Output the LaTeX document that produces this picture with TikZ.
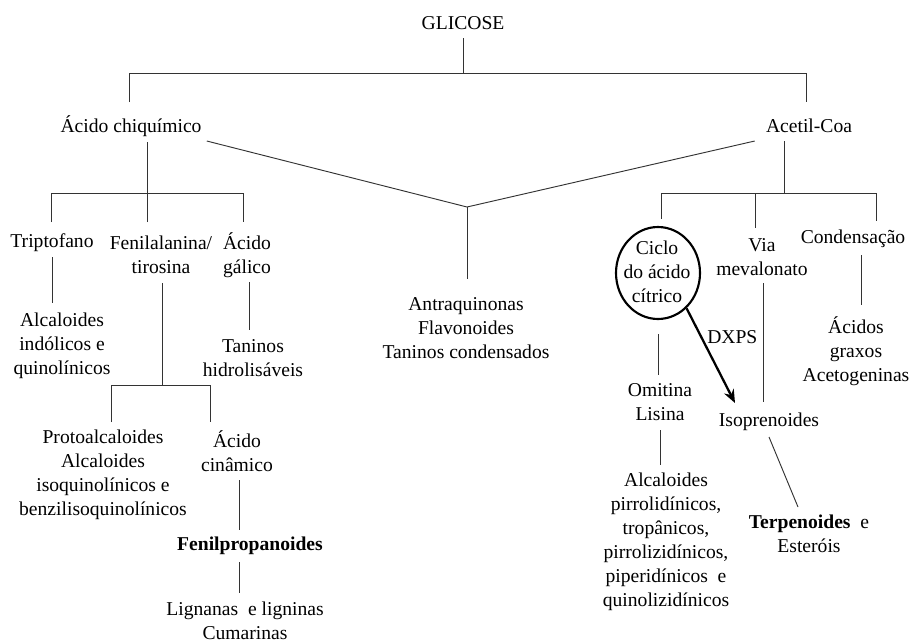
\documentclass[tikz,border=0pt]{standalone}
\usepackage{fontspec}
\setmainfont{Liberation Serif}
\usetikzlibrary{calc,arrows.meta,shapes.geometric}
\begin{document}
\begin{tikzpicture}[x=0.75pt,y=-0.75pt,
  txt/.style={font=\fontsize{14.7}{18}\selectfont, align=center, inner sep=0pt},
  ln/.style={draw=black!80, line width=0.7pt},
  circ/.style={ellipse, draw=black, line width=1.6pt, minimum width=63pt, minimum height=69pt, inner sep=0pt},
  arr/.style={draw=black, line width=1.7pt, -{Stealth[length=10pt,width=8pt]}}]
\fill[white] (0,0) rectangle (913,640);
\useasboundingbox (0,0) rectangle (913,640);

% nodes
\node[txt] (glicose) at (463,23) {GLICOSE};
\node[txt] (chiq) at (131,126) {Ácido chiquímico};
\node[txt] (acetil) at (809,126) {Acetil-Coa};
\node[txt] (trip) at (52,243) {Triptofano};
\node[txt] (fenil) at (161,255) {Fenilalanina/\\tirosina};
\node[txt] (galico) at (247,255) {Ácido\\gálico};
\node[txt] (alcind) at (62,346) {Alcaloides\\indólicos e\\quinolínicos};
\node[txt] (taninosh) at (253,358) {Taninos\\hidrolisáveis};
\node[txt] (antra) at (466,328) {Antraquinonas\\Flavonoides\\Taninos condensados};
\node[txt] (proto) at (103,475) {Protoalcaloides\\Alcaloides\\isoquinolínicos e\\benzilisoquinolínicos};
\node[txt] (cinam) at (237,451) {Ácido\\cinâmico};
\node[txt] (fprop) at (250,546) {\textbf{Fenilpropanoides}};
\node[txt] (lign) at (245,621) {Lignanas~ e ligninas\\Cumarinas};
\node[circ] (ciclo) at (658,273) {};
\node[txt] (ciclotxt) at (657,272) {Ciclo\\do ácido\\cítrico};
\node[txt] (via) at (762,257) {Via\\mevalonato};
\node[txt] (cond) at (853,239) {Condensação};
\node[txt] (acidos) at (856,351) {Ácidos\\graxos\\Acetogeninas};
\node[txt] (omit) at (660,402) {Omitina\\Lisina};
\node[txt] (isop) at (769,422) {Isoprenoides};
\node[txt] (terp) at (809,534) {\textbf{Terpenoides}~ e\\Esteróis};
\node[txt] (alcp) at (666,542) {Alcaloides\\pirrolidínicos,\\tropânicos,\\pirrolizidínicos,\\piperidínicos~ e\\quinolizidínicos};
\node[txt, anchor=west] (dxps) at (707,337) {DXPS};

% junction coordinates
\coordinate (g1) at (463,73);
\coordinate (gl) at (129,73);
\coordinate (gr) at (806,73);
\coordinate (c1) at (147,193);
\coordinate (cl) at (51,193);
\coordinate (cm) at (147,193);
\coordinate (cr) at (243,193);
\coordinate (conv) at (467,207);
\coordinate (a1) at (784,193);
\coordinate (al) at (661,193);
\coordinate (am) at (755,193);
\coordinate (ar) at (876,193);
\coordinate (f1) at (162,385);
\coordinate (fl) at (111,385);
\coordinate (fr) at (210,385);
\coordinate (tip) at (735,403);

% top level
\draw[ln] ($(glicose.center)+(0,15)$) -- (g1);
\draw[ln] ($(chiq.center -| gl)+(0,-24)$) -- (gl) -- (gr) -- ($(acetil.center -| gr)+(0,-24)$);

% shikimate branch
\draw[ln] ($(chiq.center -| c1)+(0,16)$) -- (c1);
\draw[ln] ($(trip.center -| cl)+(0,-21)$) -- (cl) -- (cr) -- ($(galico.center -| cr)+(0,-33)$);
\draw[ln] ($(fenil.center -| cm)+(0,-33)$) -- (cm);
\draw[ln] ($(trip.center)+(0,14)$) -- ($(alcind.center -| trip.center)+(0,-43)$);
\draw[ln] ($(fenil.center -| f1)+(0,28)$) -- (f1);
\draw[ln] ($(proto.center -| fl)+(0,-53)$) -- (fl) -- (fr) -- ($(cinam.center -| fr)+(0,-29)$);
\draw[ln] ($(galico.center -| taninosh.center)+(-4,27)$) -- ($(taninosh.center)+(-4,-28)$);
\draw[ln] ($(cinam.center)+(2,29)$) -- ($(fprop.center -| cinam.center)+(2,-16)$);
\draw[ln] ($(fprop.center)+(-11,16)$) -- ($(lign.center -| fprop.center)+(-11,-28)$);

% convergence
\draw[ln] ($(chiq.east)+(5,15)$) -- (conv) -- ($(acetil.west)+(-11,15)$);
\draw[ln] (conv) -- ($(antra.center -| conv)+(0,-49)$);

% acetil branch
\draw[ln] ($(acetil.center -| a1)+(0,15)$) -- (a1);
\draw[ln] ($(ciclo.north -| al)+(0,-7)$) -- (al) -- (ar) -- ($(cond.center -| ar)+(0,-18)$);
\draw[ln] (am) -- ($(via.center -| am)+(0,-29)$);
\draw[ln] ($(cond.center)+(8,16)$) -- ($(acidos.center -| cond.center)+(8,-46)$);
\draw[ln] ($(via.center)+(1,26)$) -- ($(isop.center -| via.center)+(1,-20)$);
\draw[ln] ($(ciclo.south)+(0,14)$) -- ($(omit.center -| ciclo.south)+(0,-27)$);
\draw[ln] ($(omit.center)+(0,28)$) -- ($(alcp.center -| omit.center)+(0,-77)$);
\draw[ln] ($(isop.center)+(0,15)$) -- ($(terp.center)+(-11,-27)$);

% DXPS arrow
\draw[arr] (ciclo.-51) -- (tip);
\end{tikzpicture}
\end{document}
